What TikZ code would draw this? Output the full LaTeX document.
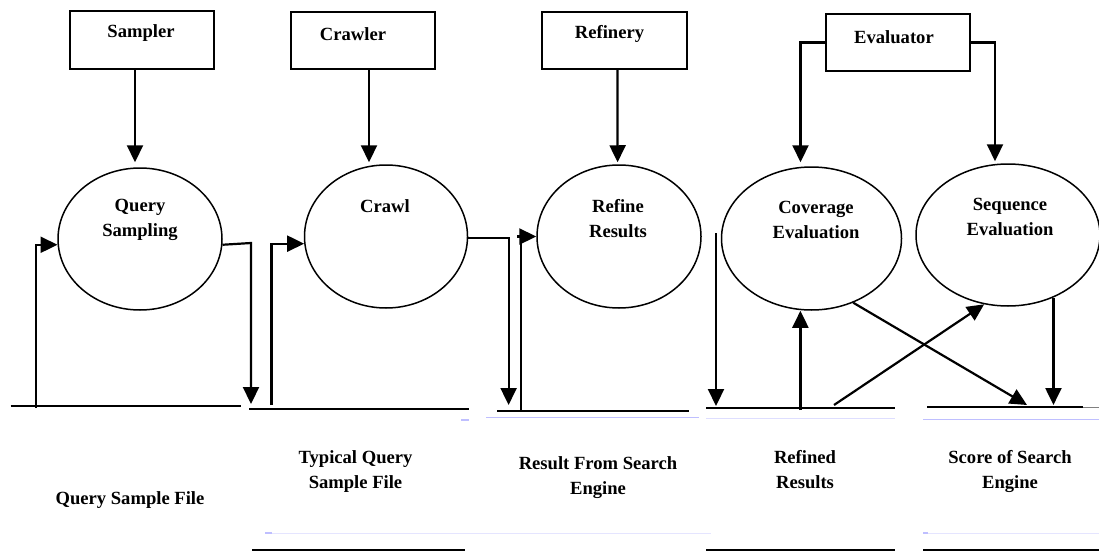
\documentclass[tikz,border=0pt]{standalone}
\usepackage{fontspec}
\setmainfont{Liberation Serif}
\usetikzlibrary{arrows.meta,shapes.geometric}
\begin{document}
\begin{tikzpicture}[x=1pt,y=-1pt,
  arr/.style={line width=2.2pt,-{Triangle[length=17pt,width=16pt]}},
  ln/.style={line width=2.2pt},
  box/.style={draw,line width=1.7pt,rectangle,inner sep=0pt},
  ell/.style={draw,line width=1.5pt,ellipse,inner sep=0pt},
  txt/.style={font=\fontsize{18.6}{25}\selectfont\bfseries,align=center,inner sep=0pt},
  faint/.style={line width=1pt,color=blue!25!white}]
\fill[white] (0,0) rectangle (1099,551);
\useasboundingbox (0,0) rectangle (1099,551);

% boxes
\node[box,minimum width=144pt,minimum height=58pt] (sampler) at (142,40) {};
\node[txt] (samplerT) at (141,33) {Sampler};
\node[box,minimum width=144pt,minimum height=57pt] (crawler) at (363,40.5) {};
\node[txt] (crawlerT) at (353,34) {Crawler};
\node[box,minimum width=145pt,minimum height=57pt] (refinery) at (614.5,40.5) {};
\node[txt] (refineryT) at (609.5,34) {Refinery};
\node[box,minimum width=144pt,minimum height=57pt] (evaluator) at (898,42.5) {};
\node[txt] (evaluatorT) at (894,37) {Evaluator};

% processes
\node[ell,minimum width=164pt,minimum height=142pt] (qs) at (140,239) {};
\node[ell,minimum width=163pt,minimum height=143pt] (crawl) at (386,236.5) {};
\node[ell,minimum width=164pt,minimum height=143pt] (refine) at (619,236.5) {};
\node[ell,minimum width=180pt,minimum height=143pt] (coverage) at (811.5,238.5) {};
\node[ell,minimum width=184pt,minimum height=142pt] (sequence) at (1008,235) {};
\node[txt] (qsT) at (140,220) {Query\\Sampling};
\node[txt] (crawlT) at (385,206) {Crawl};
\node[txt] (refineT) at (618,219) {Refine\\Results};
\node[txt] (coverageT) at (816,220) {Coverage\\Evaluation};
\node[txt] (sequenceT) at (1010,216.5) {Sequence\\Evaluation};

% data stores
\draw[ln] (10.5,406) -- (241,406);
\draw[ln] (249,409) -- (469,409);
\draw[ln] (252,550) -- (465,550);
\draw[ln] (497,411) -- (689,411);
\draw[ln] (706,408) -- (895,408);
\draw[ln] (706,550) -- (895,550);
\draw[ln] (927,407) -- (1083,407);
\draw[line width=1pt,gray] (1083,407) -- (1099,407);
\draw[ln] (923,550) -- (1099,550);
\draw[faint] (486,417) -- (699,417);
\draw[faint,line width=2pt] (461,420) -- (469,420);
\draw[faint,opacity=.5] (706,418) -- (895,418);
\draw[faint] (923,419) -- (1099,419);
\draw[faint,opacity=.4] (265,533) -- (711,533);
\draw[faint,line width=2pt] (265,533) -- (272,533);
\draw[faint,opacity=.4] (923,533) -- (1099,533);
\draw[faint,line width=2pt] (923,533) -- (928,533);

\node[txt] (f1T) at (130,500) {Query Sample File};
\node[txt] (f2T) at (355.5,471.5) {Typical Query\\Sample File};
\node[txt] (f3T) at (598,477.5) {Result From Search\\Engine};
\node[txt] (f4T) at (805,469.5) {Refined\\Results};
\node[txt] (f5T) at (1010,471.5) {Score of Search\\Engine};

% connector end points on the stores
\coordinate (s1in) at (36,408);
\coordinate (qsbend) at (251,243);
\coordinate (s12) at (251,404);
\coordinate (s2in) at (271.5,405);
\coordinate (s3down) at (508.6,405);
\coordinate (s3in) at (521,410);
\coordinate (s3tick) at (521,232);
\coordinate (refineIn) at (517,236.5);
\coordinate (f4src) at (716,233);
\coordinate (s4down) at (716,406);
\coordinate (s4up) at (800.4,410);
\coordinate (s4out) at (834,405);
\coordinate (s5a) at (1027,405);
\coordinate (s5b) at (1052.7,405);

% connectors
\draw[arr] ([xshift=-7pt]sampler.south) -- ([xshift=-5pt,yshift=5pt]qs.north);
\draw[arr] ([xshift=6pt]crawler.south) -- ([xshift=-17pt,yshift=2pt]crawl.north);
\draw[arr] ([xshift=3pt]refinery.south) -- ([xshift=-1.4pt,yshift=2pt]refine.north);
\draw[arr] (evaluator.west) -| ([xshift=-11pt,yshift=4pt]coverage.north);
\draw[arr] (evaluator.east) -| ([xshift=-13pt,yshift=2pt]sequence.north);
\draw[arr] (qs.-4) -- (qsbend) -- (s12);
\draw[arr] (s1in) |- (qs.184);
\draw[arr] (s2in) |- (crawl.185);
\draw[arr] (crawl.-1) -| (s3down);
\draw[ln] (s3in) -- (s3tick);
\draw[arr] (refineIn) -- (refine.west);
\draw[arr] (f4src) -- (s4down);
\draw[arr] (s4up) -- (coverage.south -| s4up);
\draw[arr] (coverage.-57) -- (s5a);
\draw[arr] (s4out) -- (sequence.-109);
\draw[arr] (sequence.-54) -- (sequence.-54 |- s5b);
\end{tikzpicture}
\end{document}
